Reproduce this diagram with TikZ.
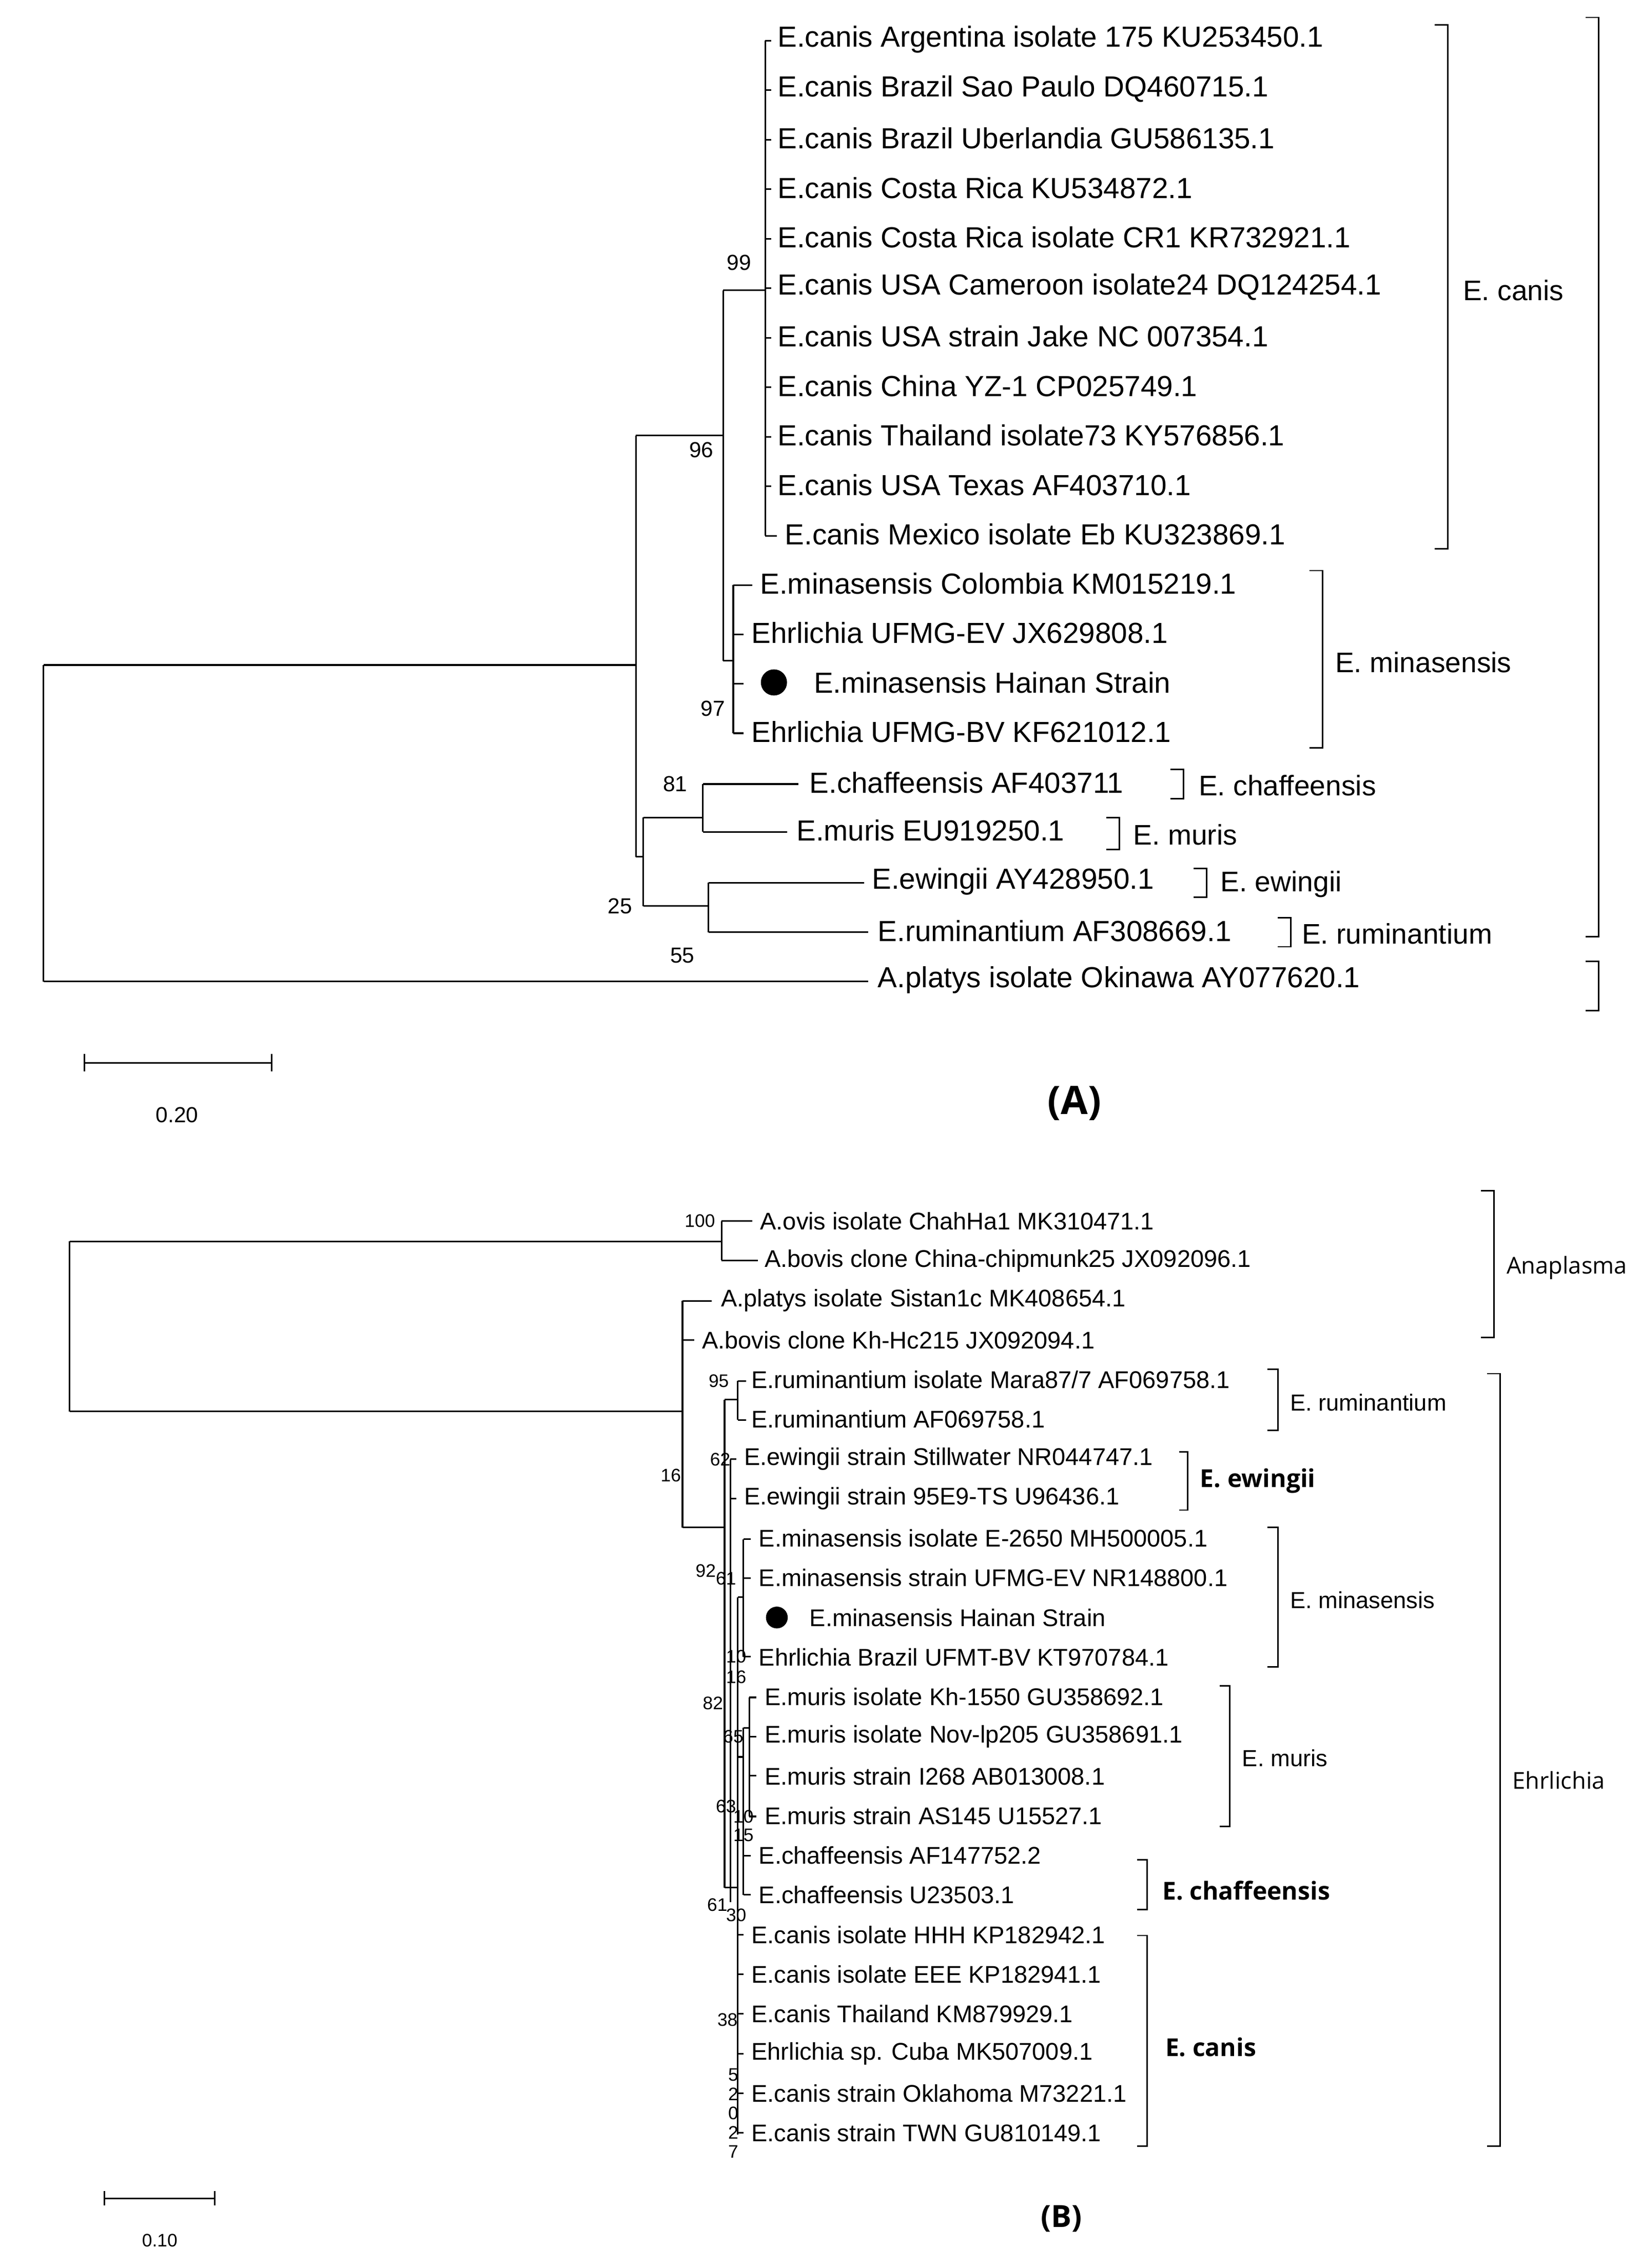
\documentclass[tikz,border=0pt]{standalone}
\usepackage{fontspec}
\setmainfont{Liberation Sans}
\newfontfamily\osans{Open Sans}
\begin{document}
\begin{tikzpicture}[x=1pt,y=-1pt,line width=1.1pt,
  la/.style={anchor=west,inner sep=0pt,font=\fontsize{20}{20}\selectfont},
  lb/.style={anchor=west,inner sep=0pt,font=\fontsize{16.6}{16.6}\selectfont},
  bsa/.style={inner sep=0pt,font=\fontsize{15}{15}\selectfont},
  bsb/.style={inner sep=0pt,font=\fontsize{12.5}{12.5}\selectfont},
  grp/.style={anchor=west,inner sep=0pt,font=\fontsize{19.5}{19.5}\selectfont},
  grpb/.style={anchor=west,inner sep=0pt,font=\fontsize{16}{16}\selectfont},
  grpbb/.style={anchor=west,inner sep=0pt,font=\osans\bfseries\fontsize{17}{17}\selectfont},
  br/.style={line width=1pt}]
\fill[white] (0,0) rectangle (1130,1562);
\useasboundingbox (0,0) rectangle (1130,1562);
% ================= Tree A =================
\draw (30,458) -- (30,676);
\draw (30,458) -- (438,458);
\draw (30,676) -- (598,676);
\draw (438,300) -- (438,590);
\draw (438,300) -- (498,300);
\draw (438,590) -- (443,590);
\draw (443,563) -- (443,624);
\draw (443,563) -- (484,563);
\draw (484,540) -- (484,573);
\draw (484,540) -- (550,540);
\draw (484,573) -- (542,573);
\draw (443,624) -- (488,624);
\draw (488,608) -- (488,642);
\draw (488,608) -- (595,608);
\draw (488,642) -- (598,642);
\draw (498,200) -- (498,455);
\draw (498,200) -- (527,200);
\draw (498,455) -- (505,455);
\draw (527,28) -- (527,369);
\foreach \i in {0,...,9} \draw (527,28+34.1*\i) -- (531,28+34.1*\i);
\draw (527,369) -- (535,369);
\draw (505,403) -- (505,505);
\draw (505,403) -- (518,403);
\draw (505,437) -- (512,437);
\draw (505,471) -- (512,471);
\draw (505,505) -- (512,505);
\foreach \t [count=\i from 0] in {
 E.canis Argentina isolate 175 KU253450.1,
 E.canis Brazil Sao Paulo DQ460715.1,
 E.canis Brazil Uberlandia GU586135.1,
 E.canis Costa Rica KU534872.1,
 E.canis Costa Rica isolate CR1 KR732921.1,
 E.canis USA Cameroon isolate24 DQ124254.1,
 E.canis USA strain Jake NC 007354.1,
 E.canis China YZ-1 CP025749.1,
 E.canis Thailand isolate73 KY576856.1,
 E.canis USA Texas AF403710.1}
 \node[la] (ac\i) at (535,27+34.1*\i) {\t};
\node[la] (ac10) at (540,368) {E.canis Mexico isolate Eb KU323869.1};
\node[la] (am1) at (523,402) {E.minasensis Colombia KM015219.1};
\node[la] (am2) at (517,436) {Ehrlichia UFMG-EV JX629808.1};
\node[circle,fill=black,minimum size=18pt,inner sep=0pt] (dotA) at (533,470) {};
\node[la] (am3) at (560,470) {E.minasensis Hainan Strain};
\node[la] (am4) at (517,504) {Ehrlichia UFMG-BV KF621012.1};
\node[la] (ach) at (557,539) {E.chaffeensis AF403711};
\node[la] (amu) at (548,572) {E.muris EU919250.1};
\node[la] (aew) at (600,607) {E.ewingii AY428950.1};
\node[la] (aru) at (604,641) {E.ruminantium AF308669.1};
\node[la] (apl) at (604,675) {A.platys isolate Okinawa AY077620.1};
\node[bsa] (a99) at (509,181) {99};
\node[bsa] (a96) at (483,310) {96};
\node[bsa] (a97) at (491,488) {97};
\node[bsa] (a81) at (465,540) {81};
\node[bsa] (a25) at (427,624) {25};
\node[bsa] (a55) at (470,658) {55};
% brackets A
\draw[br] (988,17) -- (997,17) -- (997,378) -- (988,378);
\node[grp] (gAc) at (1007,200) {E. canis};
\draw[br] (902,393) -- (911,393) -- (911,515) -- (902,515);
\node[grp] (gAm) at (919,456) {E. minasensis};
\draw[br] (806,530) -- (815,530) -- (815,550) -- (806,550);
\node[grp] (gAch) at (825,541) {E. chaffeensis};
\draw[br] (762,563) -- (771,563) -- (771,585) -- (762,585);
\node[grp] (gAmu) at (780,575) {E. muris};
\draw[br] (822,598) -- (831,598) -- (831,618) -- (822,618);
\node[grp] (gAew) at (840,609) {E. ewingii};
\draw[br] (880,632) -- (889,632) -- (889,652) -- (880,652);
\node[grp] (gAru) at (896,643) {E. ruminantium};
\draw[br] (1092,12) -- (1101,12) -- (1101,645) -- (1092,645);
\draw[br] (1092,662) -- (1101,662) -- (1101,696) -- (1092,696);
% scale A
\draw (58,732) -- (187,732);
\draw (58,726) -- (58,738); \draw (187,726) -- (187,738);
\node[bsa] (sA) at (122,768) {0.20};
\node[inner sep=0pt,font=\osans\bfseries\fontsize{27}{27}\selectfont] (labA) at (740,760) {(A)};
% ================= Tree B =================
\def\yb#1{841+27.3*#1}
\draw (48,855) -- (48,972);
\draw (48,855) -- (497,855);
\draw (48,972) -- (470,972);
\draw (497,841) -- (497,868);
\draw (497,841) -- (518,841);
\draw (497,868) -- (522,868);
\draw (470,896) -- (470,1052);
\draw (470,896) -- (490,896);
\draw (470,923) -- (478,923);
\draw (470,1052) -- (499,1052);
\draw (499,964) -- (499,1300);
\draw (499,964) -- (508,964);
\draw (508,951) -- (508,978);
\draw (508,951) -- (514,951);
\draw (508,978) -- (514,978);
\draw (503,1005) -- (503,1310);
\draw (503,1005) -- (507,1005);
\draw (503,1032) -- (507,1032);
\draw (499,1300) -- (508,1300);
\draw (508,1100) -- (508,1470);
\draw (508,1100) -- (512,1100);
\draw (512,1060) -- (512,1141);
\draw (512,1060) -- (517,1060);
\draw (512,1087) -- (517,1087);
\draw (512,1141) -- (517,1141);
\draw (508,1210) -- (512,1210);
\draw (512,1190) -- (512,1305);
\draw (512,1190) -- (516,1190);
\draw (516,1169) -- (516,1251);
\draw (516,1169) -- (521,1169);
\draw (516,1196) -- (521,1196);
\draw (516,1223) -- (521,1223);
\draw (516,1251) -- (521,1251);
\draw (512,1278) -- (517,1278);
\draw (512,1305) -- (517,1305);
\foreach \i in {18,...,23} \draw (508,\yb{\i}) -- (512,\yb{\i});
\node[lb] (b0) at (523,\yb0) {A.ovis isolate ChahHa1 MK310471.1};
\node[lb] (b1) at (526,\yb1) {A.bovis clone China-chipmunk25 JX092096.1};
\node[lb] (b2) at (496,\yb2) {A.platys isolate Sistan1c MK408654.1};
\node[lb] (b3) at (483,\yb3) {A.bovis clone Kh-Hc215 JX092094.1};
\node[lb] (b4) at (517,\yb4) {E.ruminantium isolate Mara87/7 AF069758.1};
\node[lb] (b5) at (517,\yb5) {E.ruminantium AF069758.1};
\node[lb] (b6) at (512,\yb6) {E.ewingii strain Stillwater NR044747.1};
\node[lb] (b7) at (512,\yb7) {E.ewingii strain 95E9-TS U96436.1};
\node[lb] (b8) at (522,\yb8) {E.minasensis isolate E-2650 MH500005.1};
\node[lb] (b9) at (522,\yb9) {E.minasensis strain UFMG-EV NR148800.1};
\node[circle,fill=black,minimum size=15pt,inner sep=0pt] (dotB) at (535,\yb{10}) {};
\node[lb] (b10) at (557,\yb{10}) {E.minasensis Hainan Strain};
\node[lb] (b11) at (522,\yb{11}) {Ehrlichia Brazil UFMT-BV KT970784.1};
\node[lb] (b12) at (526,\yb{12}) {E.muris isolate Kh-1550 GU358692.1};
\node[lb] (b13) at (526,\yb{13}) {E.muris isolate Nov-lp205 GU358691.1};
\node[lb] (b14) at (526,\yb{14}) {E.muris strain I268 AB013008.1};
\node[lb] (b15) at (526,\yb{15}) {E.muris strain AS145 U15527.1};
\node[lb] (b16) at (522,\yb{16}) {E.chaffeensis AF147752.2};
\node[lb] (b17) at (522,\yb{17}) {E.chaffeensis U23503.1};
\node[lb] (b18) at (517,\yb{18}) {E.canis isolate HHH KP182942.1};
\node[lb] (b19) at (517,\yb{19}) {E.canis isolate EEE KP182941.1};
\node[lb] (b20) at (517,\yb{20}) {E.canis Thailand KM879929.1};
\node[lb] (b21) at (517,\yb{21}) {Ehrlichia sp. Cuba MK507009.1};
\node[lb] (b22) at (517,\yb{22}) {E.canis strain Oklahoma M73221.1};
\node[lb] (b23) at (517,\yb{23}) {E.canis strain TWN GU810149.1};
% bootstraps B
\node[bsb] (s100) at (482,841) {100};
\node[bsb] (s95) at (495,951) {95};
\node[bsb] (s16a) at (462,1016) {16};
\node[bsb] (s62) at (496,1005) {62};
\node[bsb] (s92) at (486,1082) {92};
\node[bsb] (s61a) at (500,1087) {61};
\node[bsb] (s10a) at (507,1141) {10};
\node[bsb] (s16b) at (507,1155) {16};
\node[bsb] (s82) at (491,1173) {82};
\node[bsb] (s65) at (505,1196) {65};
\node[bsb] (s63) at (500,1244) {63};
\node[bsb] (s10b) at (512,1251) {10};
\node[bsb] (s15) at (512,1264) {15};
\node[bsb] (s61b) at (494,1312) {61};
\node[bsb] (s30) at (507,1319) {30};
\node[bsb] (s38) at (501,1391) {38};
\foreach \d [count=\k from 0] in {5,2,0,2,7} \node[bsb] (sd\k) at (505,1429+13.2*\k) {\d};
% brackets B
\draw[br] (1020,820) -- (1029,820) -- (1029,921) -- (1020,921);
\node[grpb,font=\osans\fontsize{16}{16}\selectfont] (gBa) at (1037,873) {Anaplasma};
\draw[br] (1024,946) -- (1033,946) -- (1033,1478) -- (1024,1478);
\node[grpb,font=\osans\fontsize{16}{16}\selectfont] (gBe) at (1041,1226) {Ehrlichia};
\draw[br] (873,943) -- (880,943) -- (880,985) -- (873,985);
\node[grpb] (gBr) at (888,966) {E. ruminantium};
\draw[br] (812,1000) -- (818,1000) -- (818,1040) -- (812,1040);
\node[grpbb] (gBw) at (826,1020) {E. ewingii};
\draw[br] (873,1052) -- (880,1052) -- (880,1148) -- (873,1148);
\node[grpb] (gBm) at (888,1102) {E. minasensis};
\draw[br] (840,1161) -- (847,1161) -- (847,1258) -- (840,1258);
\node[grpb] (gBmu) at (855,1211) {E. muris};
\draw[br] (783,1281) -- (790,1281) -- (790,1315) -- (783,1315);
\node[grpbb] (gBch) at (800,1302) {E. chaffeensis};
\draw[br] (783,1333) -- (790,1333) -- (790,1478) -- (783,1478);
\node[grpbb] (gBc) at (802,1410) {E. canis};
% scale B
\draw (72,1514) -- (148,1514);
\draw (72,1509) -- (72,1519); \draw (148,1509) -- (148,1519);
\node[bsb] (sB) at (110,1543) {0.10};
\node[inner sep=0pt,font=\osans\bfseries\fontsize{21}{21}\selectfont] (labB) at (731,1528) {(B)};
\end{tikzpicture}
\end{document}
